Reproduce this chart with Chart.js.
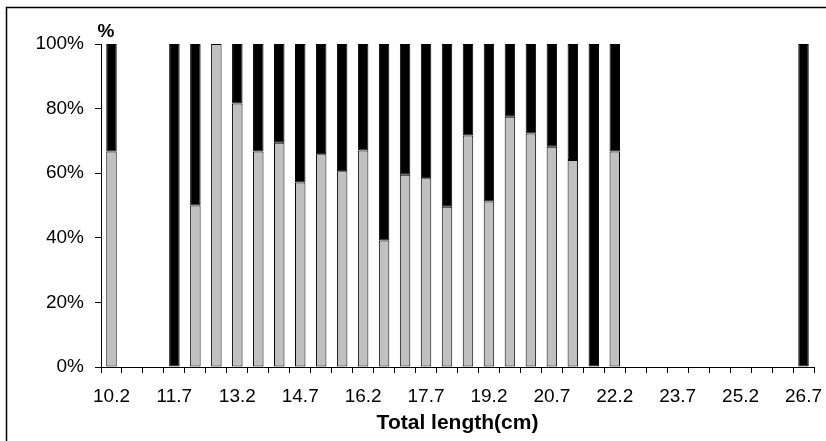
<!DOCTYPE html>
<html>
<head>
<meta charset="utf-8">
<script src="https://cdn.jsdelivr.net/npm/chart.js@4.4.1/dist/chart.umd.min.js"></script>
<style>
	html, body { margin: 0; padding: 0; background: #fff; }
	#wrap { width: 826px; height: 441px; position: relative; }
</style>
</head>
<body>
<div id="wrap"><canvas id="myChart" width="826" height="441"></canvas></div>
<script>
const lengths = [
	"10.2", "10.7", "11.2", "11.7", "12.2", "12.7", "13.2", "13.7", "14.2", "14.7",
	"15.2", "15.7", "16.2", "16.7", "17.2", "17.7", "18.2", "18.7", "19.2", "19.7",
	"20.2", "20.7", "21.2", "21.7", "22.2", "22.7", "23.2", "23.7", "24.2", "24.7",
	"25.2", "25.7", "26.2", "26.7",
];

// grey part (bottom) and black part (top), in %
const greyValues = [
	66.7, null, null, null, 50, 100, 81.6, 66.7, 69.4, 57.1,
	65.9, 60.6, 67.0, 39.2, 59.5, 58.4, 49.6, 71.7, 51.2, 77.5,
	72.3, 68.2, 64.1, null, 66.7, null, null, null, null, null,
	null, null, null, null,
];
const blackValues = [
	33.3, null, null, 100, 50, null, 18.4, 33.3, 30.6, 42.9,
	34.1, 39.4, 33.0, 60.8, 40.5, 41.6, 50.4, 28.3, 48.8, 22.5,
	27.7, 31.8, 35.9, 100, 33.3, null, null, null, null, null,
	null, null, null, 100,
];

const yTicks = [0, 20, 40, 60, 80, 100];

const frame = {
	id: "frame",
	afterDraw(chart) {
		const ctx = chart.ctx;
		ctx.save();
		ctx.strokeStyle = "#000";
		ctx.lineWidth = 1.5;
		ctx.beginPath();
		ctx.moveTo(6.5, 441);
		ctx.lineTo(6.5, 7.5);
		ctx.lineTo(826, 7.5);
		ctx.stroke();
		ctx.fillStyle = "#000";
		ctx.font = "bold 19px 'Liberation Sans', Arial, sans-serif";
		ctx.textAlign = "center";
		ctx.textBaseline = "middle";
		ctx.fillText("%", 106, 32);
		ctx.restore();
	},
};

new Chart("myChart", {
	type: "bar",
	data: {
		labels: lengths,
		datasets: [
			{
				data: greyValues,
				backgroundColor: "#C0C0C0",
				borderColor: "#000",
				borderWidth: 1,
				borderSkipped: false,
			},
			{
				data: blackValues,
				backgroundColor: "#000",
				borderColor: "#000",
				borderWidth: 1,
				borderSkipped: false,
			},
		],
	},
	options: {
		responsive: false,
		animation: false,
		layout: { padding: { top: 44, right: 12, left: 0, bottom: 0 } },
		plugins: { legend: { display: false }, tooltip: { enabled: false } },
		datasets: { bar: { barPercentage: 0.5, categoryPercentage: 1 } },
		scales: {
			x: {
				stacked: true,
				offset: true,
				grid: {
					offset: true,
					drawOnChartArea: false,
					drawTicks: true,
					tickLength: 6,
					color: "#000",
				},
				border: { color: "#000", width: 1 },
				ticks: {
					autoSkip: false,
					maxRotation: 0,
					padding: 12,
					color: "#000",
					font: { family: "'Liberation Sans', Arial, sans-serif", size: 19 },
					callback: (v, i) => (i % 3 === 0 ? lengths[i] : ""),
				},
				title: {
					display: true,
					text: "Total length(cm)",
					color: "#000",
					font: { family: "'Liberation Sans', Arial, sans-serif", size: 21, weight: "bold" },
					padding: { top: 0, bottom: 5 },
				},
				afterFit: (s) => {
					s.height = 74;
					s.paddingLeft = 0;
					s.paddingRight = 0;
				},
			},
			y: {
				stacked: true,
				min: 0,
				max: 100,
				afterBuildTicks: (s) => { s.ticks = yTicks.map((v) => ({ value: v })); },
				grid: {
					drawOnChartArea: false,
					drawTicks: true,
					tickLength: 6,
					color: "#000",
				},
				border: { color: "#000", width: 1 },
				ticks: {
					padding: 11,
					color: "#000",
					font: { family: "'Liberation Sans', Arial, sans-serif", size: 19 },
					callback: (v) => v + "%",
				},
				afterFit: (s) => {
					s.width = 101;
					s.paddingTop = 0;
					s.paddingBottom = 0;
				},
			},
		},
	},
	plugins: [frame],
});
</script>
</body>
</html>
